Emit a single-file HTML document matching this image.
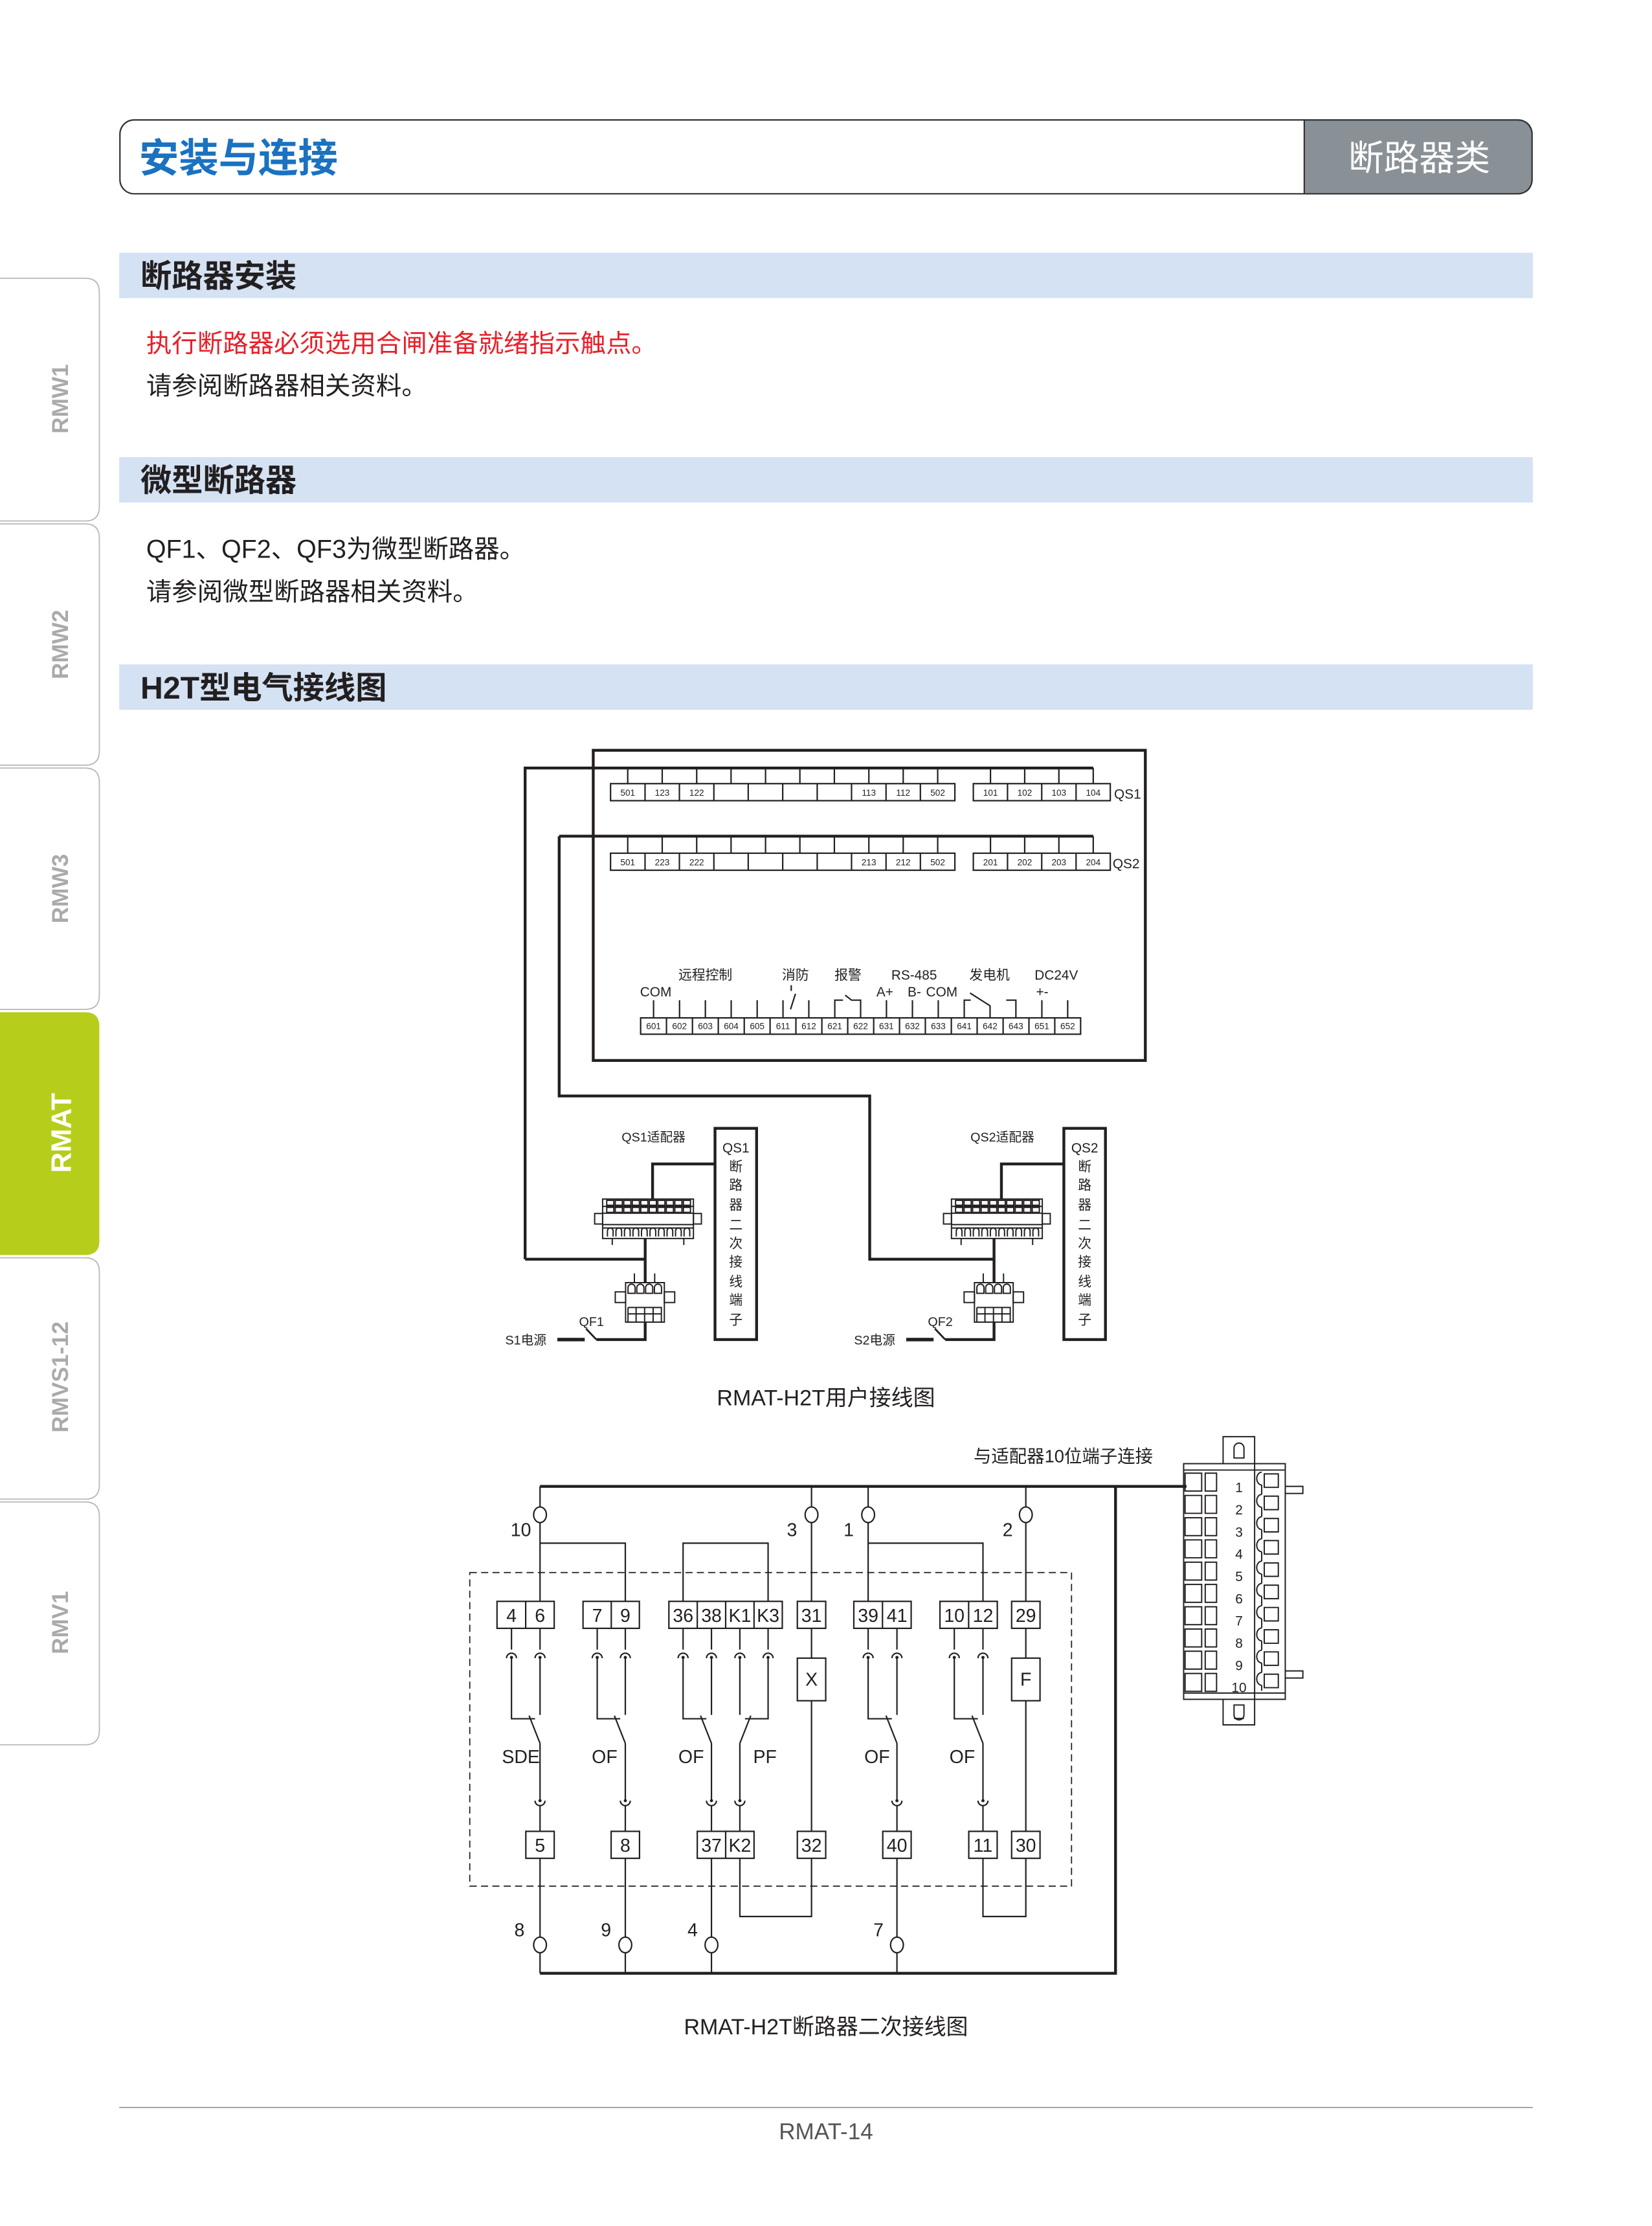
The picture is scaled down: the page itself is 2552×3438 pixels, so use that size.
<!DOCTYPE html>
<html><head><meta charset="utf-8"><style>
html,body{margin:0;padding:0;background:#fff}
svg{display:block}
text{font-family:"Liberation Sans","Noto Sans CJK SC",sans-serif;fill:#231f20}
.n{font-family:"Liberation Sans Narrow","Liberation Sans","Noto Sans CJK SC",sans-serif}
</style></head><body>
<svg width="2552" height="3438" viewBox="0 0 1164 1568" preserveAspectRatio="none" xmlns="http://www.w3.org/2000/svg">
<!-- side tabs -->
<g stroke="#b8b8b8" stroke-width="0.8" fill="#fff">
<path d="M0 196 H60 Q70 196 70 206 V357 Q70 367 60 367 H0"/>
<path d="M0 369 H60 Q70 369 70 379 V529 Q70 539 60 539 H0"/>
<path d="M0 541 H60 Q70 541 70 551 V701 Q70 711 60 711 H0"/>
<path d="M0 886 H60 Q70 886 70 896 V1046 Q70 1056 60 1056 H0"/>
<path d="M0 1058 H60 Q70 1058 70 1068 V1219 Q70 1229 60 1229 H0"/>
</g>
<path d="M0 713 H60 Q70 713 70 723 V874 Q70 884 60 884 H0Z" fill="#b6cd1b"/>
<g font-weight="bold" font-size="16" text-anchor="middle">
<text transform="translate(48,281) rotate(-90)" style="fill:#aaa">RMW1</text>
<text transform="translate(48,454) rotate(-90)" style="fill:#aaa">RMW2</text>
<text transform="translate(48,626) rotate(-90)" style="fill:#aaa">RMW3</text>
<text transform="translate(50,798) rotate(-90)" font-size="20" style="fill:#fff">RMAT</text>
<text transform="translate(48,970) rotate(-90)" style="fill:#aaa">RMVS1-12</text>
<text transform="translate(48,1143) rotate(-90)" style="fill:#aaa">RMV1</text>
</g>
<!-- header -->
<path d="M919 84.5 H1070 Q1079.5 84.5 1079.5 94 V127 Q1079.5 136.5 1070 136.5 H919Z" fill="#8a9196"/>
<rect x="84.5" y="84.5" width="995" height="52" rx="10" fill="none" stroke="#333" stroke-width="1"/>
<line x1="919" y1="84.5" x2="919" y2="136.5" stroke="#333" stroke-width="1"/>
<text x="98" y="121" font-size="28" font-weight="bold" style="fill:#1a72c0">安装与连接</text>
<text x="1000" y="120" font-size="25" text-anchor="middle" style="fill:#fff">断路器类</text>
<!-- section bars -->
<rect x="84" y="178" width="996" height="32" fill="#d4e2f3"/>
<rect x="84" y="322" width="996" height="32" fill="#d4e2f3"/>
<rect x="84" y="468" width="996" height="32" fill="#d4e2f3"/>
<text x="99" y="202" font-size="22" font-weight="bold">断路器安装</text>
<text x="99" y="346" font-size="22" font-weight="bold">微型断路器</text>
<text x="99" y="492" font-size="22" font-weight="bold">H2T型电气接线图</text>
<text x="103" y="248" font-size="18" style="fill:#e8202a">执行断路器必须选用合闸准备就绪指示触点。</text>
<text x="103" y="278" font-size="18">请参阅断路器相关资料。</text>
<text x="103" y="393" font-size="18">QF1、QF2、QF3为微型断路器。</text>
<text x="103" y="423" font-size="18">请参阅微型断路器相关资料。</text>

<!-- ============ Diagram 1 ============ -->
<g stroke="#231f20" fill="none">
<rect x="418" y="528.5" width="389" height="218.5" stroke-width="2"/>
<polyline points="370,887 370,541 770.3,541" stroke-width="2"/>
<polyline points="394,589 770.3,589" stroke-width="2"/>
<polyline points="394,589 394,772 612.8,772 612.8,887 700.4,887" stroke-width="2"/>
<line x1="370" y1="887" x2="454.6" y2="887" stroke-width="2"/>
<g stroke-width="1">
<path d="M442.3 541V552M466.6 541V552M490.9 541V552M515.1 541V552M539.4 541V552M563.6 541V552M587.9 541V552M612.2 541V552M636.4 541V552M660.7 541V552M697.9 541V552M722 541V552M746.1 541V552M770.3 541V552"/>
<path d="M442.3 589V601M466.6 589V601M490.9 589V601M515.1 589V601M539.4 589V601M563.6 589V601M587.9 589V601M612.2 589V601M636.4 589V601M660.7 589V601M697.9 589V601M722 589V601M746.1 589V601M770.3 589V601"/>
<rect x="430.2" y="552" width="242.6" height="12"/>
<rect x="685.8" y="552" width="96.5" height="12"/>
<rect x="430.2" y="601" width="242.6" height="12"/>
<rect x="685.8" y="601" width="96.5" height="12"/>
<path d="M454.5 552V564M478.7 552V564M503 552V564M527.2 552V564M551.5 552V564M575.8 552V564M600 552V564M624.3 552V564M648.5 552V564M709.9 552V564M734 552V564M758.2 552V564"/>
<path d="M454.5 601V613M478.7 601V613M503 601V613M527.2 601V613M551.5 601V613M575.8 601V613M600 601V613M624.3 601V613M648.5 601V613M709.9 601V613M734 601V613M758.2 601V613"/>
<rect x="451.4" y="717" width="310" height="11.5"/>
<path d="M469.6 717V728.5M487.9 717V728.5M506.1 717V728.5M524.4 717V728.5M542.6 717V728.5M560.8 717V728.5M579.1 717V728.5M597.3 717V728.5M615.6 717V728.5M633.8 717V728.5M652 717V728.5M670.3 717V728.5M688.5 717V728.5M706.8 717V728.5M725 717V728.5M743.2 717V728.5"/>
<path d="M460.5 704.5V717M478.8 704.5V717M497 704.5V717M515.2 704.5V717M533.5 704.5V717M551.7 704.5V717M569.9 704.5V717M624.6 704.5V717M642.9 704.5V717M661.1 704.5V717M734.1 704.5V717M752.3 704.5V717"/>
<path d="M557 711L560.5 700M557.5 694V698"/>
<path d="M588.2 717V704.5H594M595.5 701L600 704.5H606.4V717"/>
<path d="M679.4 717V704.5H684M683.5 699.5L697.6 708.5V717M709 704.5H715.8V717"/>
</g>
</g>
<g class="n" font-size="6.2" text-anchor="middle">
<text x="442.3" y="560.5">501</text><text x="466.6" y="560.5">123</text><text x="490.9" y="560.5">122</text><text x="612.2" y="560.5">113</text><text x="636.4" y="560.5">112</text><text x="660.7" y="560.5">502</text>
<text x="697.9" y="560.5">101</text><text x="722" y="560.5">102</text><text x="746.1" y="560.5">103</text><text x="770.3" y="560.5">104</text>
<text x="442.3" y="609.5">501</text><text x="466.6" y="609.5">223</text><text x="490.9" y="609.5">222</text><text x="612.2" y="609.5">213</text><text x="636.4" y="609.5">212</text><text x="660.7" y="609.5">502</text>
<text x="697.9" y="609.5">201</text><text x="722" y="609.5">202</text><text x="746.1" y="609.5">203</text><text x="770.3" y="609.5">204</text>
<text x="460.5" y="725">601</text><text x="478.8" y="725">602</text><text x="497" y="725">603</text><text x="515.2" y="725">604</text><text x="533.5" y="725">605</text><text x="551.7" y="725">611</text><text x="569.9" y="725">612</text><text x="588.2" y="725">621</text><text x="606.4" y="725">622</text><text x="624.6" y="725">631</text><text x="642.9" y="725">632</text><text x="661.1" y="725">633</text><text x="679.4" y="725">641</text><text x="697.6" y="725">642</text><text x="715.8" y="725">643</text><text x="734.1" y="725">651</text><text x="752.3" y="725">652</text>
</g>
<g class="n" font-size="9.5">
<text x="785" y="562.5">QS1</text><text x="784" y="611.5">QS2</text>
<text x="451" y="702">COM</text>
<text x="478" y="690">远程控制</text>
<text x="551" y="690">消防</text>
<text x="588" y="690">报警</text>
<text x="628" y="690">RS-485</text>
<text x="683" y="690">发电机</text>
<text x="729" y="690">DC24V</text>
<text x="617.5" y="702">A+</text><text x="639.5" y="702">B-</text><text x="652.5" y="702">COM</text><text x="730" y="702">+-</text>
</g>
<g id="ad" stroke="#231f20" fill="none" stroke-width="0.9">
<rect x="424.6" y="844.6" width="64" height="27.8"/>
<path d="M424.6 849.8H488.6M424.6 854.6H488.6M424.6 862.6H488.6M424.6 865H488.6"/>
<path d="M427.5 845.5h5v3.5h-5zM433.5 845.5h5v3.5h-5zM439.5 845.5h5v3.5h-5zM445.5 845.5h5v3.5h-5zM451.5 845.5h5v3.5h-5zM457.5 845.5h5v3.5h-5zM463.5 845.5h5v3.5h-5zM469.5 845.5h5v3.5h-5zM475.5 845.5h5v3.5h-5zM481.5 845.5h5v3.5h-5z"/>
<path d="M427.5 850.5h5v3.5h-5zM433.5 850.5h5v3.5h-5zM439.5 850.5h5v3.5h-5zM445.5 850.5h5v3.5h-5zM451.5 850.5h5v3.5h-5zM457.5 850.5h5v3.5h-5zM463.5 850.5h5v3.5h-5zM469.5 850.5h5v3.5h-5zM475.5 850.5h5v3.5h-5zM481.5 850.5h5v3.5h-5z"/>
<path d="M428 871v-4a1.8 1.8 0 0 1 4 0v4M434 871v-4a1.8 1.8 0 0 1 4 0v4M440 871v-4a1.8 1.8 0 0 1 4 0v4M446 871v-4a1.8 1.8 0 0 1 4 0v4M452 871v-4a1.8 1.8 0 0 1 4 0v4M458 871v-4a1.8 1.8 0 0 1 4 0v4M464 871v-4a1.8 1.8 0 0 1 4 0v4M470 871v-4a1.8 1.8 0 0 1 4 0v4M476 871v-4a1.8 1.8 0 0 1 4 0v4M482 871v-4a1.8 1.8 0 0 1 4 0v4"/>
<rect x="419" y="854.8" width="5.6" height="7.4"/><rect x="488.6" y="854.8" width="5.6" height="7.4"/>
<path d="M431.4 872.4V877M481.8 872.4V877"/>
<rect x="440.8" y="903.5" width="27.3" height="27.8"/>
<path d="M442.5 911v-4a2 2 0 0 1 5 0v4zM448.7 911v-4a2 2 0 0 1 5 0v4zM454.9 911v-4a2 2 0 0 1 5 0v4zM461.1 911v-4a2 2 0 0 1 5 0v4z"/>
<path d="M442.5 921h23.5v10M442.5 925.5H466M448.2 921v10M454.2 921v10M460.2 921v10M442.5 921v10"/>
<rect x="433.5" y="910" width="7.3" height="7.5"/><rect x="468.1" y="910" width="7.3" height="7.5"/>
<path d="M447 897V903.5M461.3 897V903.5"/>
<rect x="503.8" y="794.8" width="29.3" height="148.8" stroke-width="2"/>
<polyline points="503.8,819.9 459.8,819.9 459.8,844.6" stroke-width="2"/>
<line x1="454.6" y1="872.4" x2="454.6" y2="903.5" stroke-width="2"/>
<polyline points="454.6,931.3 454.6,943.6 420.2,943.6" stroke-width="2"/>
<line x1="420.2" y1="943.6" x2="413" y2="936" stroke-width="1.3"/>
<line x1="392.7" y1="943.6" x2="412" y2="943.6" stroke-width="2.5"/>
</g>
<use href="#ad" transform="translate(245.8,0)"/>
<g class="n" font-size="9">
<text x="438" y="804">QS1适配器</text><text x="683.8" y="804">QS2适配器</text>
<text x="356" y="947">S1电源</text><text x="601.8" y="947">S2电源</text>
<text x="408" y="934">QF1</text><text x="653.8" y="934">QF2</text>
</g>
<g class="n" font-size="9.5" text-anchor="middle">
<text x="518.5" y="811.8">QS1</text><text x="518.5" y="825">断</text><text x="518.5" y="838">路</text><text x="518.5" y="852">器</text><text x="518.5" y="866">二</text><text x="518.5" y="879">次</text><text x="518.5" y="892">接</text><text x="518.5" y="906">线</text><text x="518.5" y="919">端</text><text x="518.5" y="933">子</text>
<text x="764.3" y="811.8">QS2</text><text x="764.3" y="825">断</text><text x="764.3" y="838">路</text><text x="764.3" y="852">器</text><text x="764.3" y="866">二</text><text x="764.3" y="879">次</text><text x="764.3" y="892">接</text><text x="764.3" y="906">线</text><text x="764.3" y="919">端</text><text x="764.3" y="933">子</text>
</g>
<text x="582" y="990" font-size="15.5" text-anchor="middle">RMAT-H2T用户接线图</text>

<!-- ============ Diagram 2 ============ -->
<text x="686" y="1030" font-size="12.5">与适配器10位端子连接</text>
<g stroke="#231f20" fill="none">
<rect x="331" y="1107.7" width="424" height="220.9" stroke-width="0.8" stroke-dasharray="5,3"/>
<line x1="380.5" y1="1047" x2="836" y2="1047" stroke-width="2"/>
<polyline points="380.5,1390 786,1390 786,1047" stroke-width="2"/>
<g stroke-width="1">
<ellipse cx="380.5" cy="1067" rx="4.5" ry="5.5"/><ellipse cx="571.8" cy="1067" rx="4.5" ry="5.5"/><ellipse cx="611.7" cy="1067" rx="4.5" ry="5.5"/><ellipse cx="722.8" cy="1067" rx="4.5" ry="5.5"/>
<ellipse cx="380.5" cy="1370" rx="4.5" ry="5.5"/><ellipse cx="440.6" cy="1370" rx="4.5" ry="5.5"/><ellipse cx="501.3" cy="1370" rx="4.5" ry="5.5"/><ellipse cx="632" cy="1370" rx="4.5" ry="5.5"/>
<path d="M380.5 1047V1061.5M571.8 1047V1061.5M611.7 1047V1061.5M722.8 1047V1061.5"/>
<path d="M380.5 1072.5V1128M571.8 1072.5V1128M611.7 1072.5V1128M722.8 1072.5V1128"/>
<path d="M380.5 1087H440.6V1128M481.3 1128V1087H541.2V1128M611.7 1087H692.6V1128"/>
<path d="M380.5 1390V1375.5M440.6 1390V1375.5M501.3 1390V1375.5M632 1390V1375.5"/>
<path d="M380.5 1309V1364.5M440.6 1309V1364.5M501.3 1309V1364.5M632 1309V1364.5"/>
<path d="M521.3 1309V1350H571.8V1309M692.6 1309V1350H722.8V1309"/>
<rect x="350.2" y="1128" width="40.3" height="19"/><line x1="370.4" y1="1128" x2="370.4" y2="1147"/>
<rect x="410.8" y="1128" width="39.7" height="19"/><line x1="430.7" y1="1128" x2="430.7" y2="1147"/>
<rect x="471.3" y="1128" width="79.9" height="19"/><path d="M491.3 1128V1147M511.3 1128V1147M531.3 1128V1147"/>
<rect x="561.8" y="1128" width="20" height="19"/>
<rect x="601.6" y="1128" width="40.4" height="19"/><line x1="621.8" y1="1128" x2="621.8" y2="1147"/>
<rect x="662.3" y="1128" width="40.4" height="19"/><line x1="682.5" y1="1128" x2="682.5" y2="1147"/>
<rect x="712.8" y="1128" width="20" height="19"/>
<rect x="370.5" y="1290" width="20" height="19"/>
<rect x="430.6" y="1290" width="20" height="19"/>
<rect x="491.3" y="1290" width="40" height="19"/><line x1="511.3" y1="1290" x2="511.3" y2="1309"/>
<rect x="561.8" y="1290" width="20" height="19"/>
<rect x="622" y="1290" width="20" height="19"/>
<rect x="682.6" y="1290" width="20" height="19"/>
<rect x="712.8" y="1290" width="20" height="19"/>
<rect x="561.8" y="1168" width="20" height="30"/><rect x="712.8" y="1168" width="20" height="30"/>
<path d="M571.8 1147V1168M571.8 1198V1290M722.8 1147V1168M722.8 1198V1290"/>
<path d="M360.4 1147V1162M380.5 1147V1162M420.8 1147V1162M440.6 1147V1162M481.3 1147V1162M501.3 1147V1162M521.3 1147V1162M541.2 1147V1162M611.7 1147V1162M632 1147V1162M672.4 1147V1162M692.6 1147V1162"/>
<path d="M356.9 1168A3.5 3.5 0 0 1 363.9 1168M377 1168A3.5 3.5 0 0 1 384 1168M417.3 1168A3.5 3.5 0 0 1 424.3 1168M437.1 1168A3.5 3.5 0 0 1 444.1 1168M477.8 1168A3.5 3.5 0 0 1 484.8 1168M497.8 1168A3.5 3.5 0 0 1 504.8 1168M517.8 1168A3.5 3.5 0 0 1 524.8 1168M537.7 1168A3.5 3.5 0 0 1 544.7 1168M608.2 1168A3.5 3.5 0 0 1 615.2 1168M628.5 1168A3.5 3.5 0 0 1 635.5 1168M668.9 1168A3.5 3.5 0 0 1 675.9 1168M689.1 1168A3.5 3.5 0 0 1 696.1 1168"/>
<path d="M360.4 1167.5V1210.7H377M380.5 1167.5V1208M372.8 1208.5L380.5 1228"/>
<path d="M420.8 1167.5V1210.7H437M440.6 1167.5V1208M432.9 1208.5L440.6 1228"/>
<path d="M481.3 1167.5V1210.7H497.7M501.3 1167.5V1208M493.6 1208.5L501.3 1228"/>
<path d="M541.2 1167.5V1210.7H524.9M521.3 1167.5V1208M529 1208.5L521.3 1228"/>
<path d="M611.7 1167.5V1210.7H628.4M632 1167.5V1208M624.3 1208.5L632 1228"/>
<path d="M672.4 1167.5V1210.7H689M692.6 1167.5V1208M684.9 1208.5L692.6 1228"/>
<path d="M380.5 1228V1268.4M440.6 1228V1268.4M501.3 1228V1268.4M521.3 1228V1268.4M632 1228V1268.4M692.6 1228V1268.4"/>
<path d="M377 1268.4A3.5 3.5 0 0 0 384 1268.4M437.1 1268.4A3.5 3.5 0 0 0 444.1 1268.4M497.8 1268.4A3.5 3.5 0 0 0 504.8 1268.4M517.8 1268.4A3.5 3.5 0 0 0 524.8 1268.4M628.5 1268.4A3.5 3.5 0 0 0 635.5 1268.4M689.1 1268.4A3.5 3.5 0 0 0 696.1 1268.4"/>
<path d="M380.5 1272V1290M440.6 1272V1290M501.3 1272V1290M521.3 1272V1290M632 1272V1290M692.6 1272V1290"/>
</g>
</g>
<g fill="#231f20">
<circle cx="360.4" cy="1167.5" r="1.1"/><circle cx="380.5" cy="1167.5" r="1.1"/><circle cx="420.8" cy="1167.5" r="1.1"/><circle cx="440.6" cy="1167.5" r="1.1"/><circle cx="481.3" cy="1167.5" r="1.1"/><circle cx="501.3" cy="1167.5" r="1.1"/><circle cx="521.3" cy="1167.5" r="1.1"/><circle cx="541.2" cy="1167.5" r="1.1"/><circle cx="611.7" cy="1167.5" r="1.1"/><circle cx="632" cy="1167.5" r="1.1"/><circle cx="672.4" cy="1167.5" r="1.1"/><circle cx="692.6" cy="1167.5" r="1.1"/>
<circle cx="380.5" cy="1268.4" r="1.1"/><circle cx="440.6" cy="1268.4" r="1.1"/><circle cx="501.3" cy="1268.4" r="1.1"/><circle cx="521.3" cy="1268.4" r="1.1"/><circle cx="632" cy="1268.4" r="1.1"/><circle cx="692.6" cy="1268.4" r="1.1"/>
</g>
<g class="n" font-size="13" text-anchor="middle">
<text x="360.4" y="1142.5">4</text><text x="380.5" y="1142.5">6</text><text x="420.8" y="1142.5">7</text><text x="440.6" y="1142.5">9</text>
<text x="481.3" y="1142.5">36</text><text x="501.3" y="1142.5">38</text><text x="521.3" y="1142.5">K1</text><text x="541.2" y="1142.5">K3</text>
<text x="571.8" y="1142.5">31</text><text x="611.7" y="1142.5">39</text><text x="632" y="1142.5">41</text><text x="672.4" y="1142.5">10</text><text x="692.6" y="1142.5">12</text><text x="722.8" y="1142.5">29</text>
<text x="380.5" y="1304.5">5</text><text x="440.6" y="1304.5">8</text><text x="501.3" y="1304.5">37</text><text x="521.3" y="1304.5">K2</text><text x="571.8" y="1304.5">32</text><text x="632" y="1304.5">40</text><text x="692.6" y="1304.5">11</text><text x="722.8" y="1304.5">30</text>
<text x="571.8" y="1187.5">X</text><text x="722.8" y="1187.5">F</text>
<text x="367" y="1242">SDE</text><text x="426" y="1242">OF</text><text x="487" y="1242">OF</text><text x="539" y="1242">PF</text><text x="618" y="1242">OF</text><text x="678" y="1242">OF</text>
<text x="367" y="1082">10</text><text x="558" y="1082">3</text><text x="598" y="1082">1</text><text x="710" y="1082">2</text>
<text x="366" y="1364">8</text><text x="427" y="1364">9</text><text x="488" y="1364">4</text><text x="619" y="1364">7</text>
</g>
<g stroke="#231f20" fill="none" stroke-width="0.9">
<rect x="834" y="1031" width="71.6" height="166"/>
<path d="M834 1035.5H905.6M834 1192.6H905.6M884 1031V1197"/>
<path d="M861.8 1031V1012H884V1031M861.8 1197V1215H884V1197"/>
<path d="M869.5 1027V1020a3.5 3.5 0 0 1 7 0V1027zM869.5 1201V1208a3.5 3.5 0 0 0 7 0V1201zM869.5 1210.5h7"/>
<rect x="905.6" y="1047" width="12.4" height="5"/><rect x="905.6" y="1177" width="12.4" height="5"/>
<path d="M835 1037.7h11.7v12.6h-11.7zM849.2 1037.7h8v12.6h-8zM835 1053.4h11.7v12.6h-11.7zM849.2 1053.4h8v12.6h-8zM835 1069.1h11.7v12.6h-11.7zM849.2 1069.1h8v12.6h-8zM835 1084.7h11.7v12.6h-11.7zM849.2 1084.7h8v12.6h-8zM835 1100.4h11.7v12.6h-11.7zM849.2 1100.4h8v12.6h-8zM835 1116.1h11.7v12.6h-11.7zM849.2 1116.1h8v12.6h-8zM835 1131.8h11.7v12.6h-11.7zM849.2 1131.8h8v12.6h-8zM835 1147.5h11.7v12.6h-11.7zM849.2 1147.5h8v12.6h-8zM835 1163.1h11.7v12.6h-11.7zM849.2 1163.1h8v12.6h-8zM835 1178.8h11.7v12.6h-11.7zM849.2 1178.8h8v12.6h-8z"/>
<path d="M890.8 1038.2h9.9v9.5h-9.9zM890.8 1053.9h9.9v9.5h-9.9zM890.8 1069.6h9.9v9.5h-9.9zM890.8 1085.2h9.9v9.5h-9.9zM890.8 1100.9h9.9v9.5h-9.9zM890.8 1116.6h9.9v9.5h-9.9zM890.8 1132.3h9.9v9.5h-9.9zM890.8 1148h9.9v9.5h-9.9zM890.8 1163.6h9.9v9.5h-9.9zM890.8 1179.3h9.9v9.5h-9.9z"/>
<path d="M889 1037a3.5 4.5 0 0 0 0 9M889 1052.7a3.5 4.5 0 0 0 0 9M889 1068.4a3.5 4.5 0 0 0 0 9M889 1084a3.5 4.5 0 0 0 0 9M889 1099.7a3.5 4.5 0 0 0 0 9M889 1115.4a3.5 4.5 0 0 0 0 9M889 1131.1a3.5 4.5 0 0 0 0 9M889 1146.8a3.5 4.5 0 0 0 0 9M889 1162.4a3.5 4.5 0 0 0 0 9M889 1178.1a3.5 4.5 0 0 0 0 9M889 1046V1052.7M889 1061.7V1068.4M889 1077.4V1084M889 1093V1099.7M889 1108.7V1115.4M889 1124.4V1131.1M889 1140.1V1146.8M889 1155.8V1162.4M889 1171.4V1178.1M889 1187.1V1191"/>
</g>
<g font-size="9.5" text-anchor="middle">
<text x="873" y="1051">1</text><text x="873" y="1066.7">2</text><text x="873" y="1082.4">3</text><text x="873" y="1098">4</text><text x="873" y="1113.7">5</text><text x="873" y="1129.4">6</text><text x="873" y="1145.1">7</text><text x="873" y="1160.8">8</text><text x="873" y="1176.4">9</text><text x="873" y="1192">10</text>
</g>
<text x="582" y="1433" font-size="15.5" text-anchor="middle">RMAT-H2T断路器二次接线图</text>
<line x1="84" y1="1484.5" x2="1080" y2="1484.5" stroke="#999" stroke-width="0.8"/>
<text x="582" y="1507" font-size="16" text-anchor="middle" style="fill:#555">RMAT-14</text>
</svg>
</body></html>
